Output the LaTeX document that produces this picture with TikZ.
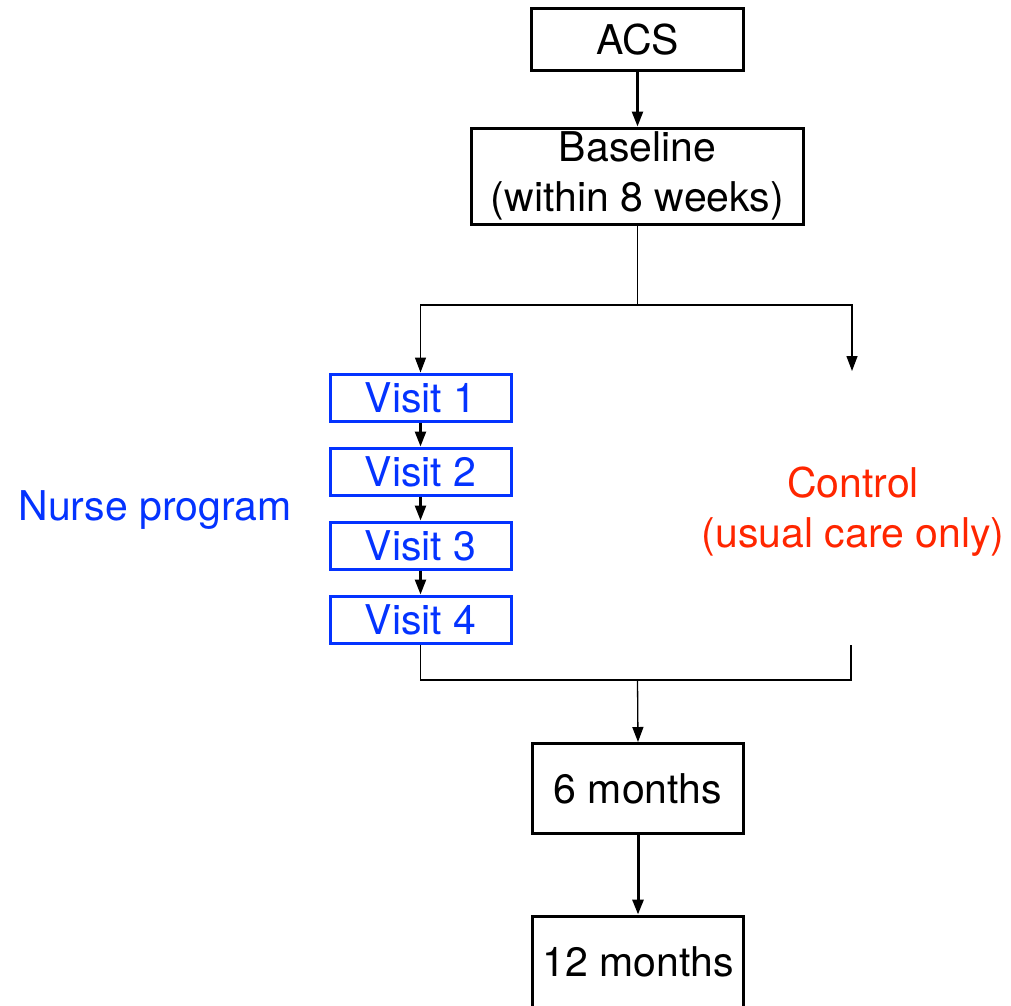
\documentclass[tikz,border=0pt]{standalone}
\usepackage{xcolor}
\usepackage{fontspec}
\setmainfont{TeX Gyre Heros}
\usepackage{tikz}
\usetikzlibrary{arrows.meta}
\usetikzlibrary{calc}

\definecolor{nurseblue}{HTML}{0433FF}
\definecolor{controlred}{HTML}{FF2600}

\begin{document}
\begin{tikzpicture}[x=1pt, y=-1pt,
    every node/.style={font=\fontsize{41}{50}\selectfont, inner sep=0pt, align=center},
    stagebox/.style={draw=black, line width=3pt},
    visitbox/.style={draw=nurseblue, text=nurseblue, line width=3pt, minimum width=181pt, minimum height=47pt},
    tip/.style={-{Triangle[length=15pt, width=11pt]}},
    thinlink/.style={line width=1.3pt},
    thicklink/.style={line width=2.5pt}]
    \useasboundingbox (0,0) rectangle (1011,1005);
    % follow-up boxes
    \node[stagebox, minimum width=212pt, minimum height=62pt] (acs) at (637.5, 39.5) {ACS};
    \node[stagebox, minimum width=332pt, minimum height=96pt] (baseline) at (637.5, 176) {Baseline\\(within 8 weeks)};
    \node[stagebox, minimum width=211pt, minimum height=90pt] (six) at (638, 788.5) {6 months};
    \node[stagebox, minimum width=211pt, minimum height=92pt] (twelve) at (638, 962) {12 months};
    % nurse arm
    \foreach \i/\y in {1/397.5, 2/471.5, 3/545.5, 4/619.5}
        \node[visitbox] (v\i) at (420.5, \y) {Visit \i};
    \node[text=nurseblue] (nurse) at (155, 510) {Nurse program};
    % control arm
    \node[text=controlred] (control) at (853, 512) {Control\\(usual care only)};
    \coordinate (split) at (637.5, 305);
    \coordinate (ctrlin) at (852, 371);
    \coordinate (ctrlout) at (851, 645);
    \coordinate (join) at (637.5, 680);
    % connectors
    \draw[thicklink, tip] (acs) -- (baseline);
    \draw[thinlink] (baseline.south) -- (split);
    \draw[thinlink, tip] (split) -| (v1.north);
    \draw[thinlink, tip] (split) -| (ctrlin);
    \foreach \i/\j in {1/2, 2/3, 3/4}
        \draw[thicklink, tip] (v\i) -- (v\j);
    \draw[thinlink] (v4.south) |- (join) -| (ctrlout);
    \draw[thinlink, tip] (join) -- (six.north);
    \draw[line width=3pt, tip] (six) -- (twelve);
\end{tikzpicture}
\end{document}
